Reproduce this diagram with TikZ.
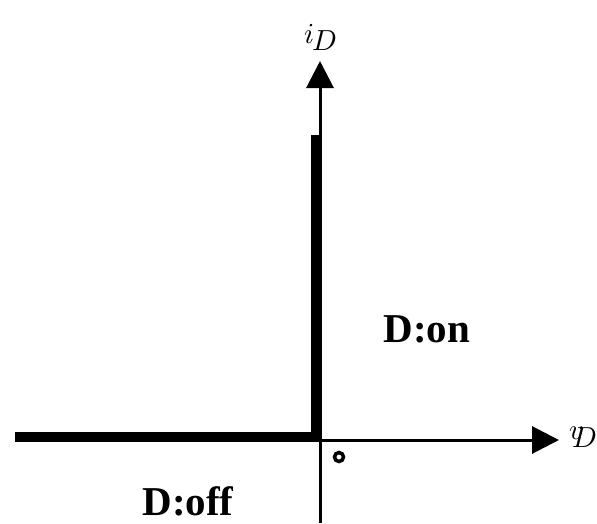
\documentclass[tikz,border=0pt]{standalone}
\usepackage{fontspec}
\setmainfont{Liberation Serif}
\usepackage{unicode-math}
\setmathfont{Latin Modern Math}
\usetikzlibrary{arrows.meta}
\begin{document}
\begin{tikzpicture}[x=1pt,y=-1pt,
  axis/.style={line width=3pt,-{Triangle[length=27pt,width=27pt]}},
  thickline/.style={line width=10.5pt},
  region/.style={font=\fontsize{41}{48}\selectfont\bfseries,inner sep=0pt,anchor=base},
  axlabel/.style={inner sep=0pt}]
\useasboundingbox (0,0) rectangle (597,523);
\coordinate (O) at (320,440);
\coordinate (xend) at (559,440);
\coordinate (ybot) at (320,523);
\coordinate (yend) at (320,61);
\coordinate (hl) at (15,437);
\coordinate (hr) at (321,437);
\coordinate (vt) at (316,135);
\coordinate (vb) at (316,442);
\draw[axis] (O) -- (xend);
\draw[axis] (ybot) -- (yend);
\draw[thickline] (hl) -- (hr);
\draw[thickline] (vb) -- (vt);
\node[circle,draw,line width=3.5pt,inner sep=0pt,minimum size=9pt] (dot) at (339,457) {};
\node[region] (on) at (427,342) {D:on};
\node[region] (off) at (188,515) {D:off};
\node[axlabel] (iD) at (321,37) {\fontsize{29}{34}\selectfont$i\kern-2pt\lower7pt\hbox{$D$}$};
\node[axlabel] (vD) at (583,437) {\fontsize{29}{34}\selectfont$v\kern-11pt\lower8pt\hbox{$D$}$};
\end{tikzpicture}
\end{document}
